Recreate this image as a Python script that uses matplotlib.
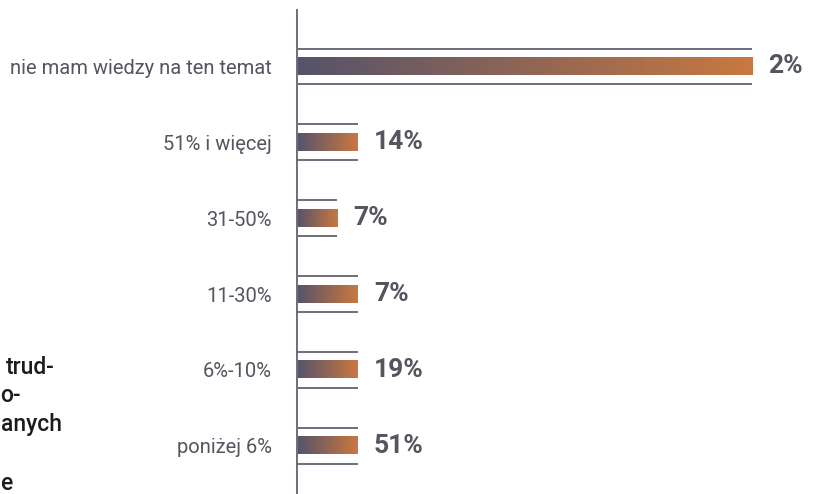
import numpy as np
import matplotlib
matplotlib.use("Agg")
import matplotlib.pyplot as plt
from matplotlib.colors import LinearSegmentedColormap

categories = ["poniżej 6%", "6%-10%", "11-30%", "31-50%", "51% i więcej", "nie mam wiedzy na ten temat"]
bar_values = [13.4, 13.4, 13.4, 8.8, 13.4, 100]
value_labels = ["51%", "19%", "7%", "7%", "14%", "2%"]

TEXT = "#56545f"
LINE = "#6f6d7b"
cmap = LinearSegmentedColormap.from_list("g", ["#55536a", "#c97840"])

W, H = 814, 494
fig = plt.figure(figsize=(W / 100, H / 100), dpi=100)
ax = fig.add_axes([297 / W, 0, 455 / W, 484 / H])

y = np.arange(len(categories))
bh = 0.228
bars = ax.barh(y, bar_values, height=bh, color="none", edgecolor="none")
ax.set_xlim(0, 100)
ax.set_ylim(-0.637, 5.745)

grad = np.linspace(0, 1, 256).reshape(1, -1)
for b in bars:
    x0, y0, w, h = b.get_x(), b.get_y(), b.get_width(), b.get_height()
    ax.imshow(grad, cmap=cmap, aspect="auto", extent=[x0, x0 + w, y0, y0 + h],
              interpolation="bicubic", zorder=2)

off = 0.237
ax.hlines(y + off, 0, bar_values, color=LINE, lw=1.4, zorder=1)
ax.hlines(y - off, 0, bar_values, color=LINE, lw=1.4, zorder=1)

for yi, v, lab in zip(y, bar_values, value_labels):
    ax.annotate(lab, (v, yi), xytext=(11.5, 0), textcoords="offset points",
                ha="left", va="center", fontsize=19, fontweight="bold",
                color=TEXT, family="Roboto", annotation_clip=False)

ax.set_yticks(y)
ax.set_yticklabels(categories, fontsize=14.5, color=TEXT, family="Roboto")
ax.tick_params(axis="y", length=0, pad=18)
ax.set_xticks([])
for s in ["top", "right", "bottom"]:
    ax.spines[s].set_visible(False)
ax.spines["left"].set_color(LINE)
ax.spines["left"].set_linewidth(1.4)
ax.patch.set_alpha(0)

side_lines = [("trud-", 55, 367), ("o-", 21, 395),
              ("anych", 62, 424), ("e", 12, 483)]
for txt, xr, yc in side_lines:
    fig.text(xr / W, 1 - yc / H, txt, ha="right", va="center", fontsize=16.5,
             fontweight="medium", color="#1c1c1c", family="Roboto")

fig.savefig("out.png", dpi=100)
